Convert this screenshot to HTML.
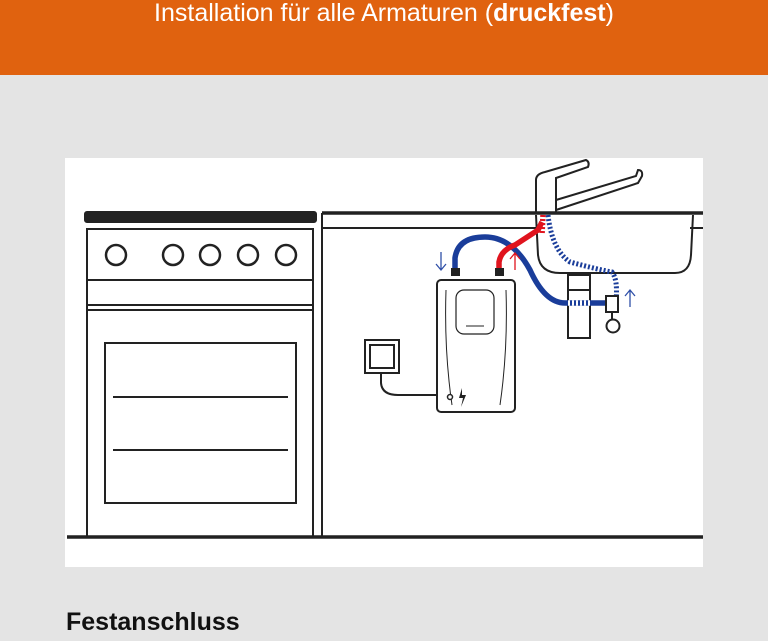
<!DOCTYPE html>
<html><head><style>
body{margin:0;width:768px;height:641px;overflow:hidden;background:#e4e4e4;font-family:"Liberation Sans",sans-serif;}
.h{position:absolute;left:0;top:0;width:768px;height:75px;background:#e0620f;}
.t{position:absolute;left:0;top:-1px;width:768px;text-align:center;color:#fff;font-size:25px;}
.f{position:absolute;left:66px;top:608px;font-size:25px;font-weight:bold;color:#111;}
svg{position:absolute;left:0;top:0;}
</style></head><body>
<div class="h"></div>
<div class="t">Installation für alle Armaturen (<b>druckfest</b>)</div>
<svg width="768" height="641">
<rect x="65" y="158" width="638" height="409" fill="#fff"/>
<g fill="none" stroke="#222" stroke-width="2">
<rect x="85" y="212" width="231" height="10" rx="2" fill="#222"/>
<rect x="87" y="229" width="226" height="308"/>
<line x1="87" y1="280" x2="313" y2="280"/>
<line x1="87" y1="305" x2="313" y2="305"/>
<line x1="87" y1="310" x2="313" y2="310"/>
<circle cx="116" cy="255" r="10" stroke-width="2.5"/>
<circle cx="173" cy="255" r="10" stroke-width="2.5"/>
<circle cx="210" cy="255" r="10" stroke-width="2.5"/>
<circle cx="248" cy="255" r="10" stroke-width="2.5"/>
<circle cx="286" cy="255" r="10" stroke-width="2.5"/>
<rect x="105" y="343" width="191" height="160"/>
<line x1="113" y1="397" x2="288" y2="397"/>
<line x1="113" y1="450" x2="288" y2="450"/>
<line x1="322" y1="213" x2="322" y2="537"/>
<line x1="322" y1="213" x2="703" y2="213" stroke-width="3.5"/>
<line x1="322" y1="228" x2="540" y2="228"/>
<line x1="690" y1="228" x2="703" y2="228"/>
<line x1="67" y1="537" x2="703" y2="537" stroke-width="3.5"/>
<path d="M536 215 L538 255 Q540 273 560 273 L675 273 Q690 273 691 255 L693 215"/>
<path d="M536 213 L536 180 Q536 174 545 172 L586 160 Q590 162 588 167 L556 178 L556 213"/>
<path d="M556 200 L636 176 L638 170 Q643 170 642 176 L638 183 L556 210"/>
<rect x="568" y="275" width="22" height="63" fill="#fff"/>
<line x1="568" y1="290" x2="590" y2="290"/>
<rect x="365" y="340" width="34" height="33"/>
<rect x="370" y="345" width="24" height="23"/>
<path d="M381 373 L381 383 Q382 395 398 395 L437 395"/>
</g>
<g fill="none" stroke-linecap="butt">
<path d="M548 215 Q552 250 570 262 Q600 270 612 272 Q618 280 616 300" stroke="#1a3d9a" stroke-width="5" stroke-dasharray="2 2"/>
<path d="M543 215 L542 235" stroke="#e0141e" stroke-width="5.5" stroke-dasharray="2 2"/>
<path d="M455 272 L455 258 Q458 237 485 237 Q512 237 530 270 Q545 303 565 303 L605 303" stroke="#1a3d9a" stroke-width="5.5"/>
<path d="M568 303 L590 303" stroke="#fff" stroke-width="5.5" stroke-dasharray="2 2"/>
<path d="M499 272 L499 262 Q501 250 515 245 L538 230 L542 222" stroke="#e0141e" stroke-width="5.5"/>
<path d="M441 252 L441 270 M436 264 L441 270 L446 264" stroke="#3050a8" stroke-width="1.3"/>
<path d="M515 270 L515 253 M510 259 L515 253 L520 259" stroke="#e0141e" stroke-width="1.3"/>
<path d="M630 307 L630 290 M625 296 L630 290 L635 296" stroke="#3050a8" stroke-width="1.3"/>
</g>
<g stroke="#222" stroke-width="2" fill="#fff">
<rect x="606" y="296" width="12" height="16"/>
<line x1="612" y1="312" x2="612" y2="320"/>
<circle cx="613" cy="326" r="6.5"/>
<rect x="437" y="280" width="78" height="132" rx="4"/>
<rect x="456" y="290" width="38" height="44" rx="8" stroke-width="1.2"/>
<path d="M446 290 Q444 350 452 405 M506 290 Q508 350 500 405" fill="none" stroke-width="1"/>
<circle cx="450" cy="397" r="2.5" stroke-width="1.5"/>
</g>
<rect x="451" y="268" width="9" height="8" fill="#222"/>
<rect x="495" y="268" width="9" height="8" fill="#222"/>
<line x1="466" y1="326" x2="484" y2="326" stroke="#222" stroke-width="1"/>
<path d="M462 388 L459 398 L463 398 L461 407 L466 395 L462 395 Z" fill="#222"/>
</svg>
<div class="f">Festanschluss</div>
</body></html>
